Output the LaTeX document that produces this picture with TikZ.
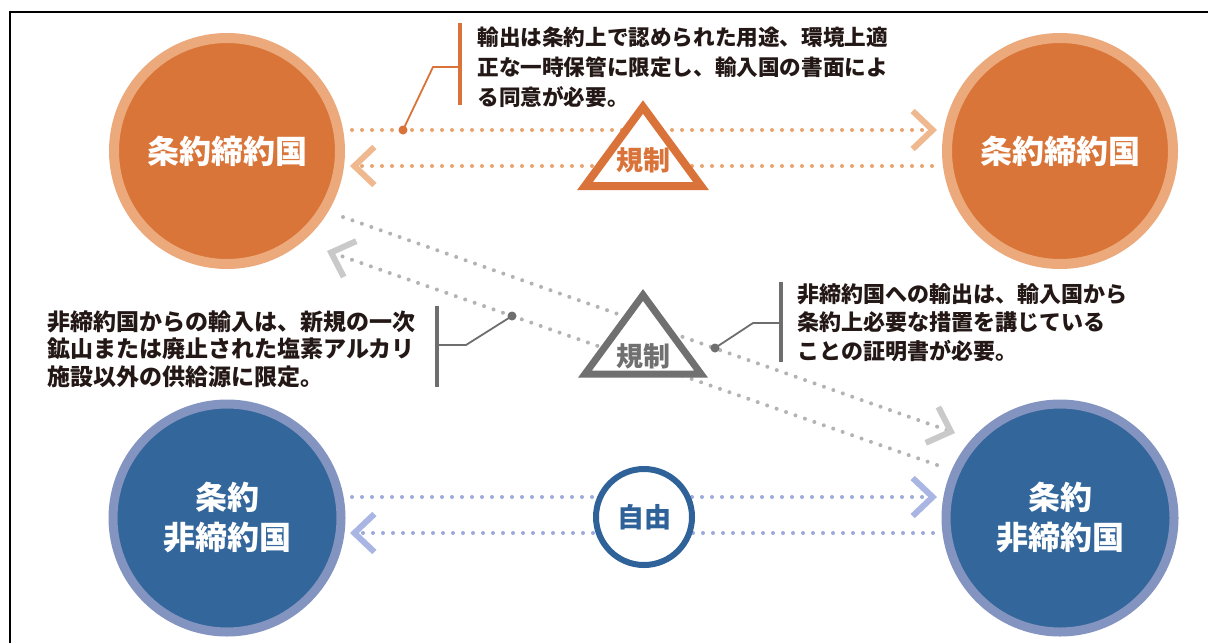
\documentclass[tikz,border=0pt]{standalone}
\usepackage{fontspec}
\newfontfamily\cjk{Noto Sans CJK JP}
\usetikzlibrary{arrows.meta}
\definecolor{orFill}{HTML}{D97539}
\definecolor{orRing}{HTML}{EBA97C}
\definecolor{orDot}{HTML}{E9A46F}
\definecolor{orTip}{HTML}{EFB88E}
\definecolor{orLine}{HTML}{D9733A}
\definecolor{blFill}{HTML}{33669A}
\definecolor{blRing}{HTML}{8494C0}
\definecolor{blDot}{HTML}{9DAADB}
\definecolor{blTip}{HTML}{A9B6E4}
\definecolor{blLine}{HTML}{2E6299}
\definecolor{gyTri}{HTML}{707070}
\definecolor{gyDot}{HTML}{B3B3B3}
\definecolor{gyTip}{HTML}{C9C9C9}
\definecolor{gyLine}{HTML}{6E6E6E}
\definecolor{txt}{HTML}{231815}
\begin{document}
\begin{tikzpicture}[x=0.5pt,y=-0.5pt,
  country/.style={circle, inner sep=0pt, minimum size=113pt, line width=5pt,
    text=white, font=\cjk\bfseries\fontsize{16}{20}\selectfont, align=center},
  dotline/.style={line width=2pt, line cap=round, dash pattern=on 0pt off 5pt},
  ortip/.style={-{Straight Barb[length=10pt, width=19pt, line width=3pt, color=orTip]}},
  gytip/.style={-{Straight Barb[length=10pt, width=19pt, line width=3pt, color=gyTip]}},
  bltip/.style={-{Straight Barb[length=10pt, width=19pt, line width=3pt, color=blTip]}},
  note/.style={anchor=north west, align=left, inner sep=0pt, text=txt},
  bar/.style={line width=2.2pt},
  leader/.style={line width=0.9pt},
  marker/.style={circle, inner sep=0pt, minimum size=4.5pt},
  tritext/.style={font=\cjk\bfseries\fontsize{13.5}{16}\selectfont}
]
\useasboundingbox (0,0) rectangle (1208,643);
\fill[white] (0,0) rectangle (1208,643);
\draw[line width=1pt] (10,643) -- (10,12) -- (1208,12);

% circles
\node[country, fill=orFill, draw=orRing] (tl) at (227,151) {\raisebox{-2pt}{条約締約国}};
\node[country, fill=orFill, draw=orRing] (tr) at (1060,151) {\raisebox{-2pt}{条約締約国}};
\node[country, fill=blFill, draw=blRing, line width=4.5pt, minimum size=114pt] (bl) at (227,518) {条約\\非締約国};
\node[country, fill=blFill, draw=blRing, line width=4.5pt, minimum size=114pt] (br) at (1060,518) {条約\\非締約国};

% connector end points
\coordinate (o1s) at (352,130); \coordinate (o1e) at (937,130);
\coordinate (o2s) at (932,166); \coordinate (o2e) at (350,166);
\coordinate (g1s) at (343,217); \coordinate (g1e) at (955,433);
\coordinate (g2s) at (937,465); \coordinate (g2e) at (327,251);
\coordinate (b1s) at (352,497); \coordinate (b1e) at (937,497);
\coordinate (b2s) at (933,533); \coordinate (b2e) at (350,533);

\draw[dotline, orDot, ortip] (o1s) -- (o1e);
\draw[dotline, orDot, ortip] (o2s) -- (o2e);
\draw[dotline, gyDot, gytip] (g1s) -- (g1e);
\draw[dotline, gyDot, gytip] (g2s) -- (g2e);
\draw[dotline, blDot, bltip] (b1s) -- (b1e);
\draw[dotline, blDot, bltip] (b2s) -- (b2e);

% triangles and free marker
\draw[orLine, line width=4pt, fill=white, line join=miter] (643,107) -- (701,186) -- (585,186) -- cycle;
\node[tritext, text=orLine] (reg1) at (643,160) {規制};
\draw[gyTri, line width=3.5pt, fill=white, line join=miter] (643,295) -- (701,374) -- (585,374) -- cycle;
\node[tritext, text=gyTri] (reg2) at (643,356) {規制};
\node[circle, draw=blLine, line width=3pt, fill=white, inner sep=0pt, minimum size=48pt,
  text=blLine, font=\cjk\bfseries\fontsize{13.5}{16}\selectfont] (free) at (644,517) {自由};

% callout 1 (orange)
\node[marker, fill=orLine] (m1) at (403,130) {};
\coordinate (k1) at (433,67);
\coordinate (j1) at (460,67);
\draw[bar, orLine] (460,23) -- (460,105);
\draw[leader, orLine] (j1) -- (k1) -- (m1.center);
\node[note, font=\cjk\bfseries\fontsize{10.8}{15}\selectfont] (n1) at (477,27)
  {輸出は条約上で認められた用途、環境上適\\正な一時保管に限定し、輸入国の書面によ\\る同意が必要。};

% callout 2 (left, gray)
\node[marker, fill=gyLine] (m2) at (512,316) {};
\coordinate (k2) at (466,345);
\coordinate (j2) at (437,345);
\draw[bar, gyLine] (437,306) -- (437,387);
\draw[leader, gyLine] (j2) -- (k2) -- (m2.center);
\node[note, font=\cjk\bfseries\fontsize{11.5}{13.75}\selectfont] (n2) at (47,310)
  {非締約国からの輸入は、新規の一次\\鉱山または廃止された塩素アルカリ\\施設以外の供給源に限定。};

% callout 3 (right, gray)
\node[marker, fill=gyLine] (m3) at (715,348) {};
\coordinate (k3) at (753,323);
\coordinate (j3) at (781,323);
\draw[bar, gyLine] (781,282) -- (781,362);
\draw[leader, gyLine] (j3) -- (k3) -- (m3.center);
\node[note, font=\cjk\bfseries\fontsize{11}{14.25}\selectfont] (n3) at (797,283)
  {非締約国への輸出は、輸入国から\\条約上必要な措置を講じている\\ことの証明書が必要。};
\end{tikzpicture}
\end{document}
